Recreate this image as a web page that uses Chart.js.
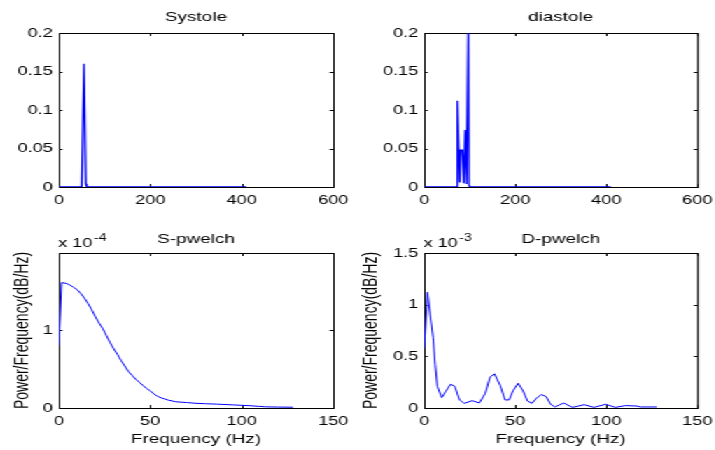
<!DOCTYPE html>
<html>
<head>
<meta charset="utf-8">
<script src="https://cdn.jsdelivr.net/npm/chart.js@4.4.1/dist/chart.umd.min.js"></script>
<style>
html, body { margin: 0; padding: 0; background: #fff; overflow: hidden; width: 715px; height: 450px; }
/* the reference figure is stretched horizontally, so draw narrow and stretch */
#stage { position: absolute; left: 0; top: 0; width: 511px; height: 450px; transform: scaleX(1.4); transform-origin: 0 0; }
#stage canvas { position: absolute; }
</style>
</head>
<body>
<div id="stage">
  <canvas id="cSys" width="255" height="220" style="left:0;top:0"></canvas>
  <canvas id="cDia" width="260" height="220" style="left:255px;top:0"></canvas>
  <canvas id="cSw" width="255" height="230" style="left:0;top:220px"></canvas>
  <canvas id="cDw" width="260" height="230" style="left:255px;top:220px"></canvas>
</div>
<script>
// Systole spectrum (sample index vs magnitude)
const sysFreq = [0, 50, 55, 59, 61, 410];
const sysVal  = [0, 0, 0.16, 0.004, 0, 0];

// diastole spectrum
const diaFreq = [0, 72, 73, 78, 80, 84, 87, 90, 93, 97, 98.5, 100, 410];
const diaVal  = [0, 0, 0.112, 0.006, 0.048, 0.048, 0.005, 0.074, 0.004, 0.22, 0.002, 0, 0];

// S-pwelch, values in units of 1e-4
const sWelchFreq = [0, 1.5, 4, 6, 8, 10, 12, 14, 16, 18, 20, 22, 24, 26, 28, 30, 32, 34, 36, 38, 40,
  42, 44, 46, 48, 50, 52, 54, 56, 58, 60, 64, 70, 75, 80, 86, 95, 104, 110, 113, 120, 128];
const sWelchVal = [0.80, 1.61, 1.60, 1.58, 1.55, 1.52, 1.47, 1.41, 1.34, 1.26, 1.17, 1.09, 1.02, 0.93, 0.84,
  0.76, 0.69, 0.61, 0.54, 0.47, 0.42, 0.37, 0.33, 0.29, 0.25, 0.22, 0.18, 0.15, 0.13, 0.115, 0.10, 0.08,
  0.07, 0.06, 0.055, 0.05, 0.04, 0.03, 0.02, 0.015, 0.012, 0.01];

// D-pwelch, values in units of 1e-3
const dWelchFreq = [0, 1.8, 3.3, 4.9, 6, 7.2, 9.6, 11.8, 14.5, 16.8, 19.4, 22.1, 26.3, 30.3, 33.5, 36.2,
  38.6, 41.7, 44.4, 46.6, 48.9, 51.6, 54.3, 56.7, 59.2, 61.6, 64.3, 67, 69.4, 71.9, 74, 76.6, 81.5, 87.8,
  93.3, 99.6, 105, 110.5, 116.8, 118.7, 127.7];
const dWelchVal = [0.58, 1.12, 0.89, 0.68, 0.42, 0.21, 0.10, 0.16, 0.23, 0.21, 0.078, 0.045, 0.071, 0.049,
  0.14, 0.30, 0.33, 0.22, 0.078, 0.078, 0.17, 0.24, 0.165, 0.068, 0.045, 0.094, 0.13, 0.11, 0.036, 0.01,
  0.028, 0.048, 0.006, 0.032, 0.006, 0.036, 0.006, 0.023, 0.019, 0.01, 0.01];

const FONT = '"Liberation Sans", Arial, Helvetica, sans-serif';
Chart.defaults.font.family = FONT;
Chart.defaults.font.size = 13;
Chart.defaults.color = '#000';

// matlab style box, inward ticks, title and exponent label
const matlabAxes = {
  id: 'matlabAxes',
  beforeDatasetsDraw(chart) {
    const { ctx, chartArea: a, scales: { x, y } } = chart;
    ctx.save();
    ctx.strokeStyle = '#000';
    ctx.lineWidth = 1;
    ctx.beginPath();
    x.ticks.forEach(t => {
      const px = Math.round(x.getPixelForValue(t.value)) + 0.5;
      ctx.moveTo(px, a.bottom); ctx.lineTo(px, a.bottom - 3);
      ctx.moveTo(px, a.top); ctx.lineTo(px, a.top + 3);
    });
    y.ticks.forEach(t => {
      const py = Math.round(y.getPixelForValue(t.value)) + 0.5;
      ctx.moveTo(a.left, py); ctx.lineTo(a.left + 2.5, py);
      ctx.moveTo(a.right, py); ctx.lineTo(a.right - 2.5, py);
    });
    ctx.stroke();
    ctx.strokeRect(a.left + 0.5, a.top + 0.5, a.right - a.left, a.bottom - a.top);
    ctx.restore();
  },
  afterDraw(chart, args, opts) {
    const { ctx, chartArea: a } = chart;
    ctx.save();
    ctx.fillStyle = '#000';
    ctx.textBaseline = 'alphabetic';
    ctx.textAlign = 'center';
    ctx.font = '13.5px ' + FONT;
    ctx.fillText(opts.title, (a.left + a.right) / 2, a.top - opts.titleGap);
    if (opts.exponent) {
      ctx.textAlign = 'left';
      ctx.font = '13px ' + FONT;
      ctx.fillText('x 10', a.left - 0.5, a.top - 6.3);
      const w = ctx.measureText('x 10').width;
      ctx.font = '10px ' + FONT;
      ctx.fillText(opts.exponent, a.left + w + 0.5, a.top - 11.8);
    }
    ctx.restore();
  }
};

function fmt(v) {
  return String(Number(v.toFixed(4)));
}

function makePlot(id, o) {
  new Chart(document.getElementById(id), {
    type: 'line',
    data: {
      datasets: [{
        data: o.xs.map((x, i) => ({ x: x, y: o.ys[i] })),
        borderColor: '#0000ff',
        borderWidth: o.lw,
        pointRadius: 0,
        tension: 0,
        fill: false
      }]
    },
    options: {
      responsive: false,
      animation: false,
      events: [],
      layout: { padding: { left: 0, top: 33, right: o.right, bottom: 0 } },
      plugins: {
        legend: { display: false },
        tooltip: { enabled: false },
        matlabAxes: { title: o.title, titleGap: o.titleGap, exponent: o.exponent }
      },
      scales: {
        x: {
          type: 'linear', min: 0, max: o.xMax,
          afterFit: s => { s.height = o.xAxisH; },
          grid: { display: false, drawTicks: false },
          border: { display: false },
          ticks: { stepSize: o.xStep, padding: 6, maxRotation: 0, autoSkip: false, callback: fmt },
          title: o.xTitle ? { display: true, text: o.xTitle, font: { size: 13.5 }, padding: { top: 0, bottom: 2.2 } } : { display: false }
        },
        y: {
          type: 'linear', min: 0, max: o.yMax,
          afterFit: s => { s.width = o.yAxisW; },
          grid: { display: false, drawTicks: false },
          border: { display: false },
          ticks: { stepSize: o.yStep, padding: 4.3, autoSkip: false, includeBounds: false, callback: fmt },
          title: o.yTitle ? { display: true, text: o.yTitle, font: { size: 14 }, padding: { top: o.yTitlePad, bottom: 0 } } : { display: false }
        }
      }
    },
    plugins: [matlabAxes]
  });
}

makePlot('cSys', {
  xs: sysFreq, ys: sysVal, lw: 1.3, title: 'Systole', titleGap: 12,
  xMax: 600, xStep: 200, yMax: 0.2, yStep: 0.05,
  yAxisW: 42, xAxisH: 33, right: 17
});
makePlot('cDia', {
  xs: diaFreq, ys: diaVal, lw: 1.3, title: 'diastole', titleGap: 12,
  xMax: 600, xStep: 200, yMax: 0.2, yStep: 0.05,
  yAxisW: 48, xAxisH: 33, right: 15
});
makePlot('cSw', {
  xs: sWelchFreq, ys: sWelchVal, lw: 1, title: 'S-pwelch', titleGap: 10.3, exponent: '-4',
  xMax: 150, xStep: 50, yMax: 1.99, yStep: 1,
  yAxisW: 42, xAxisH: 42, right: 17,
  xTitle: 'Frequency (Hz)', yTitle: 'Power/Frequency(dB/Hz)', yTitlePad: 8
});
makePlot('cDw', {
  xs: dWelchFreq, ys: dWelchVal, lw: 1, title: 'D-pwelch', titleGap: 10.3, exponent: '-3',
  xMax: 150, xStep: 50, yMax: 1.5, yStep: 0.5,
  yAxisW: 48, xAxisH: 42, right: 15,
  xTitle: 'Frequency (Hz)', yTitle: 'Power/Frequency(dB/Hz)', yTitlePad: 2
});
</script>
</body>
</html>
